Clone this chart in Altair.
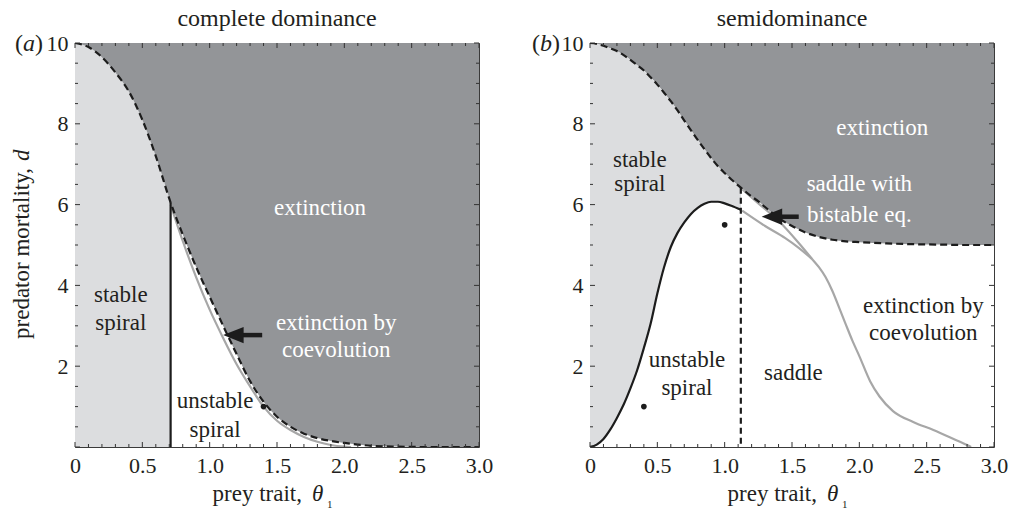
import altair as alt
import pandas as pd

# ---------------- data ----------------
# panel (a) complete dominance
a_dash_t = [0, 0.1, 0.2, 0.3, 0.4, 0.5, 0.6, 0.71, 0.8, 0.9, 1.0, 1.1, 1.2, 1.3, 1.4, 1.5, 1.6, 1.7, 1.8, 1.9, 2.0, 2.1, 2.2, 2.4, 2.6, 3.0]
a_dash_d = [10, 9.9, 9.65, 9.27, 8.8, 8.1, 7.2, 6.05, 5.26, 4.45, 3.72, 3.0, 2.3, 1.63, 1.12, 0.75, 0.5, 0.33, 0.22, 0.15, 0.1, 0.06, 0.03, 0.01, 0, 0]
a_gray_t = [0.71, 0.8, 0.9, 1.0, 1.1, 1.2, 1.3, 1.4, 1.5, 1.6, 1.7, 1.8, 1.9, 2.0, 2.05]
a_gray_d = [6.0, 5.1, 4.2, 3.4, 2.7, 2.05, 1.5, 1.0, 0.65, 0.42, 0.25, 0.13, 0.05, 0.01, 0]
a_vline_t = [0.71]
a_vline_d = [6.05]
a_dots_t = [1.40]
a_dots_d = [1.0]
a_arrow = dict(tail=[1.39], head=[1.10], d=[2.77])
a_white_lbl = ["extinction", "extinction by", "coevolution"]
a_white_t = [1.82, 1.94, 1.94]
a_white_d = [5.92, 3.07, 2.41]
a_dark_lbl = ["stable", "spiral", "unstable", "spiral"]
a_dark_t = [0.34, 0.34, 1.04, 1.04]
a_dark_d = [3.77, 3.07, 1.13, 0.43]

# panel (b) semidominance
b_t1 = [0, 0.05, 0.1, 0.15, 0.2, 0.25, 0.3, 0.35, 0.4, 0.45, 0.5, 0.55, 0.6, 0.65, 0.7, 0.75, 0.8, 0.85, 0.9, 0.95, 1.0, 1.05, 1.12]
b_dash_d1 = [10, 9.98, 9.93, 9.87, 9.80, 9.70, 9.58, 9.45, 9.32, 9.15, 8.97, 8.77, 8.56, 8.33, 8.08, 7.84, 7.6, 7.37, 7.15, 6.95, 6.78, 6.62, 6.42]
b_black_d = [0, 0.06, 0.2, 0.43, 0.72, 1.05, 1.45, 1.9, 2.45, 3.05, 3.8, 4.45, 4.95, 5.3, 5.56, 5.77, 5.92, 6.02, 6.07, 6.07, 6.03, 5.97, 5.87]
b_t2 = [1.2, 1.25, 1.3, 1.4, 1.5, 1.6, 1.7, 1.8, 1.9, 2.0, 2.2, 2.4, 2.6, 2.8, 3.0]
b_dash_d2 = [6.2, 6.08, 5.94, 5.67, 5.47, 5.31, 5.2, 5.13, 5.09, 5.07, 5.04, 5.02, 5.01, 5.0, 5.0]
b_gray_up_t = [1.13, 1.25, 1.4, 1.55, 1.65]
b_gray_up_d = [6.38, 6.03, 5.6, 5.05, 4.65]
b_gray_lo_t = [1.13, 1.3, 1.45, 1.55, 1.65]
b_gray_lo_d = [5.85, 5.47, 5.17, 4.93, 4.65]
b_gray_t = [1.65, 1.7, 1.75, 1.8, 1.85, 1.9, 1.95, 2.0, 2.08, 2.15, 2.25, 2.4, 2.55, 2.7, 2.8, 2.83]
b_gray_d = [4.65, 4.45, 4.2, 3.86, 3.45, 3.03, 2.62, 2.25, 1.63, 1.25, 0.89, 0.62, 0.42, 0.2, 0.05, 0]
b_vline_t = [1.12]
b_vline_d = [6.42]
b_dots_t = [1.0, 0.40]
b_dots_d = [5.5, 1.0]
b_arrow = dict(tail=[1.55], head=[1.275], d=[5.7])
b_white_lbl = ["extinction", "saddle with", "bistable eq."]
b_white_t = [2.17, 2.0, 2.0]
b_white_d = [7.9, 6.5, 5.74]
b_dark_lbl = ["stable", "spiral", "unstable", "spiral", "saddle", "extinction by", "coevolution"]
b_dark_t = [0.37, 0.37, 0.72, 0.72, 1.51, 2.475, 2.475]
b_dark_d = [7.1, 6.5, 2.16, 1.46, 1.83, 3.48, 2.82]

# axis ticks
x_major = [0, 0.5, 1.0, 1.5, 2.0, 2.5, 3.0]
x_minor = [0.1, 0.2, 0.3, 0.4, 0.6, 0.7, 0.8, 0.9, 1.1, 1.2, 1.3, 1.4, 1.6, 1.7, 1.8, 1.9,
           2.1, 2.2, 2.3, 2.4, 2.6, 2.7, 2.8, 2.9]
y_major = [0, 2, 4, 6, 8, 10]
y_minor = [0.5, 1, 1.5, 2.5, 3, 3.5, 4.5, 5, 5.5, 6.5, 7, 7.5, 8.5, 9, 9.5]
y_labels = [2, 4, 6, 8, 10]

titles = ["complete dominance", "semidominance"]
panel_tags = ["a", "b"]

# ---------------- style ----------------
W, H = 404, 404
FONT = "'Liberation Serif', 'Times New Roman', 'DejaVu Serif', serif"
DARK = "#939598"
LIGHT = "#dcdddf"
GRAY = "#a7a7a7"
INK = "#1c1c1c"
TXT = "#231f20"

xs = alt.Scale(domain=[0, 3], nice=False, zero=False)
ys = alt.Scale(domain=[0, 10], nice=False, zero=False)

AXX = alt.Axis(values=x_major, labelExpr="datum.value == 0 ? '0' : format(datum.value, '.1f')",
               ticks=False, domain=False, grid=False, labelFont=FONT, labelFontSize=22,
               labelColor=TXT, labelPadding=8, labelOverlap=False, labelFlush=False, title=None)
AXY = alt.Axis(values=y_labels, ticks=False, domain=False, grid=False, labelFont=FONT,
               labelFontSize=22, labelColor=TXT, labelPadding=7, labelOverlap=False,
               labelFlush=False, title=None)


def X(f="t"):
    return alt.X(f"{f}:Q", scale=xs, axis=AXX)


def Y(f="d"):
    return alt.Y(f"{f}:Q", scale=ys, axis=AXY)


def df(**cols):
    return pd.DataFrame(cols)


def background():
    return alt.Chart(df(x0=[0], x1=[3], y0=[0], y1=[10])).mark_rect(color=DARK).encode(
        x=X("x0"), x2="x1:Q", y=Y("y0"), y2="y1:Q")


def area(t, top, bottom=None, color="white"):
    data = df(t=t, d=top, b=bottom if bottom is not None else [0] * len(t))
    return alt.Chart(data).mark_area(color=color, interpolate="monotone", opacity=1).encode(
        x=X(), y=Y(), y2="b:Q")


def line(t, d, color=INK, dash=None, width=2.0):
    kw = dict(color=color, strokeWidth=width, interpolate="monotone", clip=True)
    if dash:
        kw["strokeDash"] = dash
    data = df(t=t, d=d, o=list(range(len(t))))
    return alt.Chart(data).mark_line(**kw).encode(x=X(), y=Y(), order="o:Q")


def vline(t, d, dash=None):
    kw = dict(color=INK, strokeWidth=2.2)
    if dash:
        kw["strokeDash"] = dash
    return alt.Chart(df(t=t, d=d, z=[0] * len(t))).mark_rule(**kw).encode(
        x=X(), y=Y(), y2="z:Q")


def dots(t, d):
    return alt.Chart(df(t=t, d=d)).mark_circle(color=INK, size=32, opacity=1).encode(x=X(), y=Y())


def arrow(a):
    data = df(tail=a["tail"], head=a["head"], d=a["d"])
    shaft = alt.Chart(data).transform_calculate(h2="datum.head + 0.08").mark_rule(
        color=INK, strokeWidth=4.5).encode(x=X("tail"), x2="h2:Q", y=Y())
    head = alt.Chart(data).mark_point(
        shape="M0,0L2,-0.8L2,0.8Z", size=420, filled=True, color=INK, opacity=1,
        strokeWidth=0).encode(x=X("head"), y=Y())
    return [shaft, head]


def labels(lbl, t, d, color):
    return alt.Chart(df(s=lbl, t=t, d=d)).mark_text(
        font=FONT, fontSize=23, color=color, baseline="middle", align="center").encode(
        x=X(), y=Y(), text="s:N")


def ticks():
    out = []
    for vals, ln in ((x_major, 5), (x_minor, 3)):
        d = df(v=vals)
        out.append(alt.Chart(d).mark_rule(color="#333333", strokeWidth=1).encode(
            x=X("v"), y=alt.value(H), y2=alt.value(H - ln)))
        out.append(alt.Chart(d).mark_rule(color="#333333", strokeWidth=1).encode(
            x=X("v"), y=alt.value(0), y2=alt.value(ln)))
    for vals, ln in ((y_major, 5), (y_minor, 3)):
        d = df(v=vals)
        out.append(alt.Chart(d).mark_rule(color="#333333", strokeWidth=1).encode(
            y=Y("v"), x=alt.value(0), x2=alt.value(ln)))
        out.append(alt.Chart(d).mark_rule(color="#333333", strokeWidth=1).encode(
            y=Y("v"), x=alt.value(W), x2=alt.value(W - ln)))
    return out


def text_px(s, x, y, **kw):
    base = dict(font=FONT, fontSize=23, color=TXT)
    base.update(kw)
    return alt.Chart(df(s=[s])).mark_text(**base).encode(
        x=alt.value(x), y=alt.value(y), text="s:N")


def decorations(title, tag, tag_x, ylabel):
    out = [
        text_px(title, W / 2, -17, align="center", baseline="alphabetic", fontSize=24),
        text_px("(", tag_x - 20, 8, align="right", baseline="alphabetic", fontSize=24),
        text_px(tag, tag_x - 8, 8, align="right", baseline="alphabetic", fontStyle="italic", fontSize=24),
        text_px(")", tag_x, 8, align="right", baseline="alphabetic", fontSize=24),
        text_px("prey trait,", 227, 458, align="right", baseline="alphabetic"),
        text_px("θ", 237, 458, align="left", baseline="alphabetic", fontStyle="italic"),
        text_px("1", 252, 465, align="left", baseline="alphabetic", fontSize=11),
    ]
    if ylabel:
        out += [
            text_px("predator mortality,", -53, 125, align="right", baseline="middle", angle=270),
            text_px("d", -53, 118, align="left", baseline="middle", angle=270, fontStyle="italic"),
        ]
    return out


# ---------------- panel a ----------------
a_df = pd.DataFrame({"t": a_dash_t, "d": a_dash_d})
a_left = a_df[a_df.t <= 0.71]
a_right = a_df[a_df.t >= 0.71]

panel_a = alt.layer(
    background(),
    area(list(a_left.t), list(a_left.d), color=LIGHT),
    area(list(a_right.t), list(a_right.d), color="white"),
    line(a_gray_t, a_gray_d, color=GRAY, width=2.2),
    vline(a_vline_t, a_vline_d),
    line(a_dash_t, a_dash_d, dash=[7, 4], width=2.2),
    dots(a_dots_t, a_dots_d),
    *arrow(a_arrow),
    labels(a_white_lbl, a_white_t, a_white_d, "white"),
    labels(a_dark_lbl, a_dark_t, a_dark_d, TXT),
    *ticks(),
    *decorations(titles[0], panel_tags[0], -32, True),
).properties(width=W, height=H)

# ---------------- panel b ----------------
panel_b = alt.layer(
    background(),
    area(b_t1 + b_t2, b_dash_d1 + b_dash_d2, color="white"),
    area(b_t1, b_dash_d1, b_black_d, color=LIGHT),
    line(b_gray_up_t, b_gray_up_d, color=GRAY, width=2.2),
    line(b_gray_lo_t, b_gray_lo_d, color=GRAY, width=2.2),
    line(b_gray_t, b_gray_d, color=GRAY, width=2.2),
    line(b_t1, b_black_d, width=2.2),
    vline(b_vline_t, b_vline_d, dash=[6, 4]),
    line(b_t1 + b_t2, b_dash_d1 + b_dash_d2, dash=[7, 4], width=2.2),
    dots(b_dots_t, b_dots_d),
    *arrow(b_arrow),
    labels(b_white_lbl, b_white_t, b_white_d, "white"),
    labels(b_dark_lbl, b_dark_t, b_dark_d, TXT),
    *ticks(),
    *decorations(titles[1], panel_tags[1], -30, False),
).properties(width=W, height=H)

chart = alt.hconcat(panel_a, panel_b, spacing=37).properties(
    padding={"left": 10, "top": 6, "right": 0, "bottom": 0}
).configure_view(stroke="#3a3a3a", strokeWidth=1).configure_axis(labelFont=FONT)

chart.save("out.html", embed_options={"renderer": "svg", "actions": False})
